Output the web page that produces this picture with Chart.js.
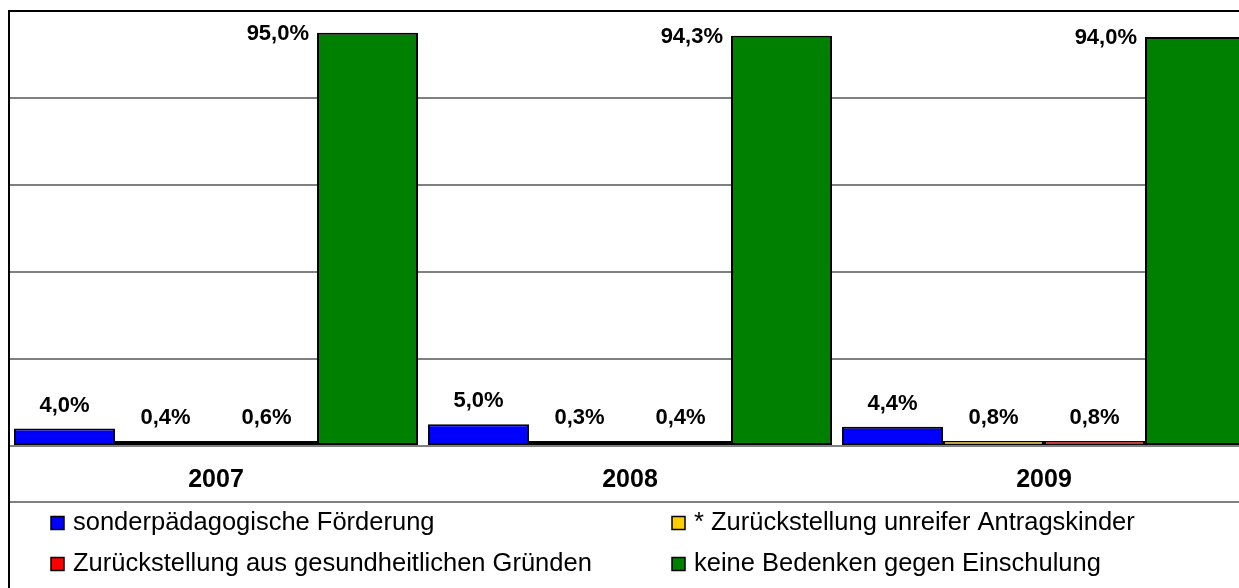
<!DOCTYPE html>
<html>
<head>
<meta charset="utf-8">
<script src="https://cdn.jsdelivr.net/npm/chart.js@4/dist/chart.umd.min.js"></script>
<style>
  html, body { margin: 0; padding: 0; overflow: hidden; background: #fff; }
  #wrap { width: 1251px; height: 588px; }
</style>
</head>
<body>
<div id="wrap"><canvas id="chart" width="1251" height="588"></canvas></div>
<script>
// Values (percent)
const categories = ['2007', '2008', '2009'];
const foerderung = [4.0, 5.0, 4.4];
const unreif = [0.4, 0.3, 0.8];
const gesundheit = [0.6, 0.4, 0.8];
const keineBedenken = [95.0, 94.3, 94.0];

const seriesLabels = [
    'sonderpädagogische Förderung',
    '* Zurückstellung unreifer Antragskinder',
    'Zurückstellung aus gesundheitlichen Gründen',
    'keine Bedenken gegen Einschulung'
];
const seriesColors = ['#0000ff', '#ffcc00', '#ff0000', '#008000'];
const yMax = 100;
const yStep = 20;

const FONT = '"Liberation Sans", Arial, sans-serif';

function fmt(v) {
    return v.toFixed(1).replace('.', ',') + '%';
}

// Value labels above the bars, tall bars get the label on their left side
const valueLabels = {
    id: 'valueLabels',
    afterDatasetsDraw(chart) {
        const ctx = chart.ctx;
        const top = chart.chartArea.top;
        ctx.save();
        ctx.font = 'bold 22px ' + FONT;
        ctx.fillStyle = '#000';
        chart.data.datasets.forEach((ds, i) => {
            const meta = chart.getDatasetMeta(i);
            meta.data.forEach((bar, j) => {
                const txt = fmt(ds.data[j]);
                if (bar.y - 36 < top) {
                    ctx.textAlign = 'right';
                    ctx.textBaseline = 'middle';
                    ctx.fillText(txt, bar.x - bar.width / 2 - 8, bar.y + 1);
                } else {
                    ctx.textAlign = 'center';
                    ctx.textBaseline = 'alphabetic';
                    ctx.fillText(txt, bar.x, bar.y - 17);
                }
            });
        });
        ctx.restore();
    }
};

// Frame lines and the legend in two columns under the axis
const frameAndLegend = {
    id: 'frameAndLegend',
    afterDraw(chart) {
        const ctx = chart.ctx;
        const w = chart.width;
        ctx.save();
        ctx.strokeStyle = '#808080';
        ctx.lineWidth = 2;
        ctx.beginPath();
        ctx.moveTo(9, 502);
        ctx.lineTo(w, 502);
        ctx.stroke();

        ctx.strokeStyle = '#000';
        ctx.lineWidth = 2;
        ctx.beginPath();
        ctx.moveTo(9, chart.height);
        ctx.lineTo(9, 11);
        ctx.lineTo(w, 11);
        ctx.stroke();

        const cols = [51, 672];
        const rows = [523, 564];
        ctx.font = '25.5px ' + FONT;
        ctx.textAlign = 'left';
        ctx.textBaseline = 'middle';
        chart.data.datasets.forEach((ds, i) => {
            const x = cols[i % 2];
            const y = rows[Math.floor(i / 2)];
            ctx.fillStyle = ds.backgroundColor;
            ctx.fillRect(x, y - 6.5, 13, 13);
            ctx.strokeStyle = '#000';
            ctx.lineWidth = 1.5;
            ctx.strokeRect(x, y - 6.5, 13, 13);
            ctx.fillStyle = '#000';
            ctx.fillText(ds.label, x + 22, y);
        });
        ctx.restore();
    }
};

const seriesData = [foerderung, unreif, gesundheit, keineBedenken];

// very thin bars show mostly their outline, as in the original
function barBorder(c) {
    if (c.raw < 0.7) return 3;
    if (c.raw < 1) return { top: 1.5, bottom: 1.5, left: 2, right: 2 };
    return 2;
}

new Chart(document.getElementById('chart'), {
    type: 'bar',
    data: {
        labels: categories,
        datasets: seriesData.map((d, i) => ({
            label: seriesLabels[i],
            data: d,
            backgroundColor: seriesColors[i],
            borderColor: '#000',
            borderWidth: barBorder,
            borderSkipped: false,
            minBarLength: 5,
            categoryPercentage: 0.976,
            barPercentage: 1.0
        }))
    },
    options: {
        responsive: false,
        animation: false,
        layout: { padding: { top: 11, left: 9, right: 0, bottom: 74 } },
        scales: {
            x: {
                grid: { display: false, drawTicks: false },
                border: { display: false },
                ticks: {
                    color: '#000',
                    font: { family: FONT, size: 25, weight: 'bold' },
                    padding: 19,
                    maxRotation: 0,
                    autoSkip: false
                }
            },
            y: {
                min: 0,
                max: yMax,
                grid: { color: '#808080', lineWidth: 2, drawTicks: false },
                border: { display: false },
                ticks: { display: false, stepSize: yStep }
            }
        },
        plugins: {
            legend: { display: false },
            tooltip: { enabled: false }
        }
    },
    plugins: [valueLabels, frameAndLegend]
});
</script>
</body>
</html>
